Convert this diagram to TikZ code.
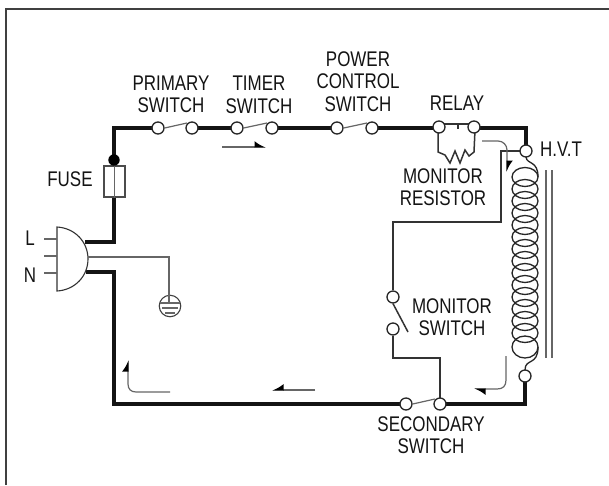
\documentclass[tikz,border=0pt]{standalone}
\usepackage{fontspec}
\setmainfont[FakeStretch=0.8]{Liberation Sans}
\usetikzlibrary{arrows.meta}
\tikzset{
  x=1pt,y=-1pt,
  wire/.style={line width=3.6pt,black!92,line cap=butt,line join=miter},
  thin wire/.style={line width=1.5pt,black!80},
  gray wire/.style={line width=1.2pt,black!60},
  coil line/.style={line width=1.3pt,black!85},
  term/.style={circle,draw=black!85,fill=white,line width=1.3pt,minimum size=12pt,inner sep=0pt},
  lab/.style={font=\fontsize{21.2}{22.5}\selectfont,align=center,inner sep=0pt,text=black!92},
  flow/.style={line width=1.2pt,black!60,-{Latex[harpoon,length=10pt,width=12pt,black]}},
  flowb/.style={line width=1.2pt,black!60,-{Latex[harpoon,swap,length=10pt,width=12pt,black]}},
}
\begin{document}
\begin{tikzpicture}
\useasboundingbox (0,0) rectangle (609,485);
\fill[white] (0,0) rectangle (609,485);
% frame
\draw[line width=1.6pt,black!75] (6,485) -- (6,9) -- (609,9);
% corner coordinates
\coordinate (tl) at (114,128);
\coordinate (bl) at (114,404);
\coordinate (tr) at (526,128);
\coordinate (br) at (525,404);
\coordinate (pg) at (88,257);
% coil
\foreach \i in {0,...,13}{
  \draw[coil line] (525,177+\i*12) ellipse (13 and 9.5);
}
\draw[coil line] (525,347) ellipse (13 and 11);
\draw[coil line] (526,157) .. controls (527,165) and (538,160) .. (538,177);
\draw[coil line] (538,347) .. controls (538,366) and (525,358) .. (525,370);
\draw[gray wire] (546,170) -- (546,358);
\draw[gray wire] (552,170) -- (552,358);
% heavy wires
\draw[wire] (114,197) -- (tl) -- (158,128);
\draw[wire] (192,128) -- (237,128);
\draw[wire] (272,128) -- (337,128);
\draw[wire] (372,128) -- (439,128);
\draw[wire] (474,128) -- (tr) -- (526,151);
\draw[wire] (406,404) -- (bl) -- (114,272) -- (86,272);
\draw[wire] (440,404) -- (br) -- (525,376);
\draw[wire] (114,197) -- (114,242) -- (85,242);
% terminals
\node[term] (p1) at (158,128) {};
\node[term] (p2) at (192,128) {};
\node[term] (t1) at (237,128) {};
\node[term] (t2) at (272,128) {};
\node[term] (c1) at (337,128) {};
\node[term] (c2) at (372,128) {};
\node[term] (m1) at (393,297) {};
\node[term] (m2) at (393,329) {};
% relay
\draw[thin wire] (439,124) -- (474,124);
\draw[thin wire] (458,124) -- (458,129);
\draw[thin wire] (438,130) -- (438,152) -- (445,155) -- (450,163) -- (455,151) -- (460,163) -- (465,150) -- (469,156) -- (474,152) -- (475,130);
\node[term] (r1) at (439,127) {};
\node[term] (r2) at (474,127) {};
% monitor branch
\draw[thin wire] (526,151) -- (501,151) -- (501,222) -- (393,222) -- (m1);
\draw[thin wire] (m2) -- (393,358) -- (440,358) -- (440,404);
\node[term] (hv) at (526,151) {};
\node[term] (hb) at (525,376) {};
\node[term] (s1) at (406,404) {};
\node[term] (s2) at (440,404) {};
% switch blades
\draw[gray wire] (p1.east) -- (187,123);
\draw[gray wire] (t1.east) -- (267,123);
\draw[gray wire] (c1.east) -- (367,123);
\draw[gray wire] (s1.east) -- (435,399);
\draw[thin wire] (m1.south) -- (408,332);
% fuse
\node[draw=black!70,fill=white,line width=1.1pt,minimum width=21pt,minimum height=31pt,inner sep=0pt] (fuse) at (114.5,181.5) {};
\draw[gray wire] (fuse.north) -- (fuse.south);
\fill[black] (114,160) circle (5.7);
% plug
\draw[line width=1.1pt,black!80,fill=white] (57,227) .. controls (75,228) and (88,242) .. (88,259) .. controls (88,276) and (75,290) .. (57,291) -- cycle;
\draw[gray wire] (44,239) -- (57,239);
\draw[gray wire] (44,256) -- (57,256);
\draw[gray wire] (44,273) -- (57,273);
% ground
\node[circle,draw=black!75,line width=1.1pt,minimum size=21.5pt,inner sep=0pt] (gnd) at (170,306) {};
\draw[gray wire] (pg) -- (169,257) -- (169,303);
\draw[gray wire] (160,303) -- (180,303);
\draw[gray wire] (162,308) -- (178,308);
\draw[gray wire] (165,313) -- (175,313);
% flow arrows
\draw[flow] (222,147) -- (266,147);
\draw[flow] (482,141) -- (498,141) .. controls (503,141) and (507,145) .. (507,150) -- (507,172);
\draw[flow] (506,356) -- (506,380) .. controls (506,386) and (503,389) .. (497,389) -- (474,389);
\draw[flowb] (315,390) -- (272,390);
\draw[flow] (170,392) -- (136,392) .. controls (131,392) and (128,389) .. (128,384) -- (128,360);
% labels
\node[lab] (lp) at (171,94.5) {PRIMARY\\SWITCH};
\node[lab] (lt) at (259,95) {TIMER\\SWITCH};
\node[lab] (lc) at (358,81.5) {POWER\\CONTROL\\SWITCH};
\node[lab] (lr) at (457,103) {RELAY};
\node[lab] (lh) at (561,149) {H.V.T};
\node[lab] (lm) at (443,187) {MONITOR\\RESISTOR};
\node[lab] (ls) at (452,317) {MONITOR\\SWITCH};
\node[lab] (l2) at (431,435) {SECONDARY\\SWITCH};
\node[lab] (lf) at (70,179) {FUSE};
\node[lab] (ll) at (30,238) {L};
\node[lab] (ln) at (30,275) {N};
\end{tikzpicture}
\end{document}
